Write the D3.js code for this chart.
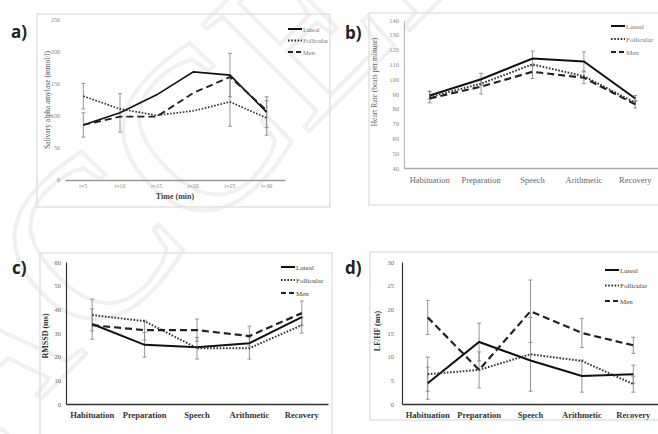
<!DOCTYPE html>
<html><head><meta charset="utf-8">
<script src="https://cdn.jsdelivr.net/npm/d3@7"></script>
<style>body{margin:0;background:#fff}svg{display:block}</style>
</head><body><svg id="chart" width="658" height="434"></svg>
<script>
// ---------- data ----------
const seriesNames = ["Luteal", "Follicular", "Men"];
const timeLabels = ["t=5", "t=10", "t=15", "t=20", "t=25", "t=30"];
const phaseLabels = ["Habituation", "Preparation", "Speech", "Arithmetic", "Recovery"];

const amylaseTicks = [0, 50, 100, 150, 200, 250];
const amylaseLuteal = [86, 105, 133, 169, 164, 106];
const amylaseFollicular = [131, 111, 101, 108, 122, 97];
const amylaseMen = [86, 99, 99, 136, 161, 109];
const amylaseErrLuteal = [19, 30, null, null, 34, 24];
const amylaseErrFollicular = [20, null, null, null, 38, 27];
const amylaseErrMen = [null, null, null, null, null, null];

const hrTicks = [40, 50, 60, 70, 80, 90, 100, 110, 120, 130, 140];
const hrLuteal = [89, 100, 114, 112, 87];
const hrFollicular = [88, 97, 110, 102, 84];
const hrMen = [87, 95, 105, 101, 83];
const hrErrLuteal = [2.5, 4, 5, 6.5, 2];
const hrErrFollicular = [4, null, null, null, null];
const hrErrMen = [null, 5, 4.5, 4, 2.5];

const rmssdTicks = [0, 10, 20, 30, 40, 50, 60];
const rmssdLuteal = [33.8, 25, 24, 25.7, 36.7];
const rmssdFollicular = [37.6, 35, 23.6, 23.6, 33.3];
const rmssdMen = [33.3, 31.2, 31.2, 28.7, 38.4];
const rmssdErrLuteal = [6.4, 5.2, null, null, null];
const rmssdErrFollicular = [6.7, null, 4.6, 4.6, 3.3];
const rmssdErrMen = [null, 4.2, 4.7, 4.2, 5.1];

const lfhfTicks = [0, 5, 10, 15, 20, 25, 30];
const lfhfLuteal = [4.4, 13.1, 9.2, 5.9, 6.3];
const lfhfFollicular = [6.3, 7.2, 10.5, 9.1, 4.2];
const lfhfMen = [18.3, 7.2, 19.6, 15, 12.4];
const lfhfErrLuteal = [3.4, 4, null, 3.4, 1.9];
const lfhfErrFollicular = [3.6, null, 7.8, null, 1.7];
const lfhfErrMen = [3.6, 3.8, 6.6, 3.1, 1.7];

// ---------- drawing ----------
const svg = d3.select("#chart");
const SERIF = "'Liberation Serif','Times New Roman',serif";

// faint watermark
svg.append("text")
  .attr("transform", "translate(-30,470) rotate(-45)")
  .attr("font-family", "'Liberation Serif',serif")
  .attr("font-size", 230)
  .attr("fill", "none")
  .attr("stroke", "#f0f0f0")
  .attr("stroke-width", 4)
  .text("ACCEPTED");

const styles = [
  {color: "#111", width: 2, dash: null},
  {color: "#333", width: 2, dash: "1.6,1.6"},
  {color: "#222", width: 2.2, dash: "7,4"}
];

function panel(cfg) {
  const g = svg.append("g");
  g.append("rect").attr("x", cfg.frame[0]).attr("y", cfg.frame[1])
    .attr("width", cfg.frame[2]).attr("height", cfg.frame[3])
    .attr("fill", "none").attr("stroke", "#e2e2e2").attr("stroke-width", 1.5);

  const x = d3.scaleBand().domain(cfg.cats).range([cfg.x0, cfg.x1]).padding(0);
  const y = d3.scaleLinear().domain(cfg.domain).range([cfg.yb, cfg.yt]);
  const cx = c => x(c) + x.bandwidth() / 2;

  const ya = g.append("g").attr("transform", `translate(${cfg.x0},0)`)
    .call(d3.axisLeft(y).tickValues(cfg.ticks).tickSize(0).tickPadding(cfg.tickPad).tickFormat(d3.format("d")));
  ya.select(".domain").attr("stroke", cfg.yAxisColor || "none").attr("stroke-width", 1.2);
  ya.selectAll("text").attr("font-family", SERIF).attr("font-size", cfg.tickSize).attr("fill", cfg.tickColor);

  const xa = g.append("g").attr("transform", `translate(0,${cfg.yb})`)
    .call(d3.axisBottom(x).tickSize(0).tickPadding(cfg.catPad));
  xa.select(".domain").attr("stroke", cfg.xAxisColor).attr("stroke-width", 1.3);
  xa.selectAll("text").attr("font-family", SERIF).attr("font-size", cfg.catSize)
    .attr("font-weight", cfg.catBold ? "bold" : "normal").attr("fill", cfg.catColor);

  cfg.series.forEach((s) => {
    s.err.forEach((e, i) => {
      if (e == null) return;
      const xc = cx(cfg.cats[i]);
      const y1 = y(s.values[i] - e), y2 = y(s.values[i] + e);
      g.append("line").attr("x1", xc).attr("x2", xc).attr("y1", y1).attr("y2", y2)
        .attr("stroke", "#8a8a8a").attr("stroke-width", 0.9);
      [y1, y2].forEach(yy => g.append("line").attr("x1", xc - 2).attr("x2", xc + 2)
        .attr("y1", yy).attr("y2", yy).attr("stroke", "#8a8a8a").attr("stroke-width", 0.9));
    });
  });

  const line = d3.line().x((d, i) => cx(cfg.cats[i])).y(d => y(d));
  cfg.series.forEach((s, si) => {
    const st = styles[si];
    g.append("path").datum(s.values).attr("d", line)
      .attr("fill", "none").attr("stroke", st.color)
      .attr("stroke-width", st.width * (cfg.lineScale || 1))
      .attr("stroke-dasharray", st.dash);
  });

  cfg.series.forEach((s, si) => {
    const st = styles[si];
    const ly = cfg.legend[1] + si * cfg.legend[2];
    g.append("line").attr("x1", cfg.legend[0]).attr("x2", cfg.legend[0] + 14)
      .attr("y1", ly).attr("y2", ly).attr("stroke", st.color).attr("stroke-width", st.width)
      .attr("stroke-dasharray", st.dash ? (si === 2 ? "5,3" : st.dash) : null);
    g.append("text").attr("x", cfg.legend[0] + 15).attr("y", ly + 2.5)
      .attr("font-family", SERIF).attr("font-size", cfg.legendSize).attr("fill", cfg.legendColor)
      .text(s.name);
  });

  g.append("text").attr("transform", `translate(${cfg.yTitle[0]},${cfg.yTitle[1]}) rotate(-90)`)
    .attr("text-anchor", "middle").attr("font-family", SERIF).attr("font-size", cfg.yTitleSize)
    .attr("font-weight", cfg.yTitleBold ? "bold" : "normal").attr("fill", cfg.yTitleColor)
    .text(cfg.yTitleText);

  if (cfg.xTitle) {
    g.append("text").attr("x", cfg.xTitle[0]).attr("y", cfg.xTitle[1]).attr("text-anchor", "middle")
      .attr("font-family", SERIF).attr("font-size", 8).attr("font-weight", "bold").attr("fill", "#444")
      .text(cfg.xTitle[2]);
  }

  g.append("text").attr("x", cfg.letter[0]).attr("y", cfg.letter[1])
    .attr("font-family", "'Open Sans','Liberation Sans',sans-serif").attr("font-size", 17)
    .attr("font-weight", "bold").attr("fill", "#222").text(cfg.letter[2]);
}

panel({
  cats: timeLabels, domain: [0, 250], ticks: amylaseTicks,
  x0: 65, x1: 285, yb: 180, yt: 20,
  frame: [37, 14, 293, 193],
  tickPad: 5, tickSize: 6, tickColor: "#888",
  xAxisColor: "#999", catPad: 4, catSize: 6, catBold: false, catColor: "#888",
  lineScale: 0.85,
  series: [
    {name: seriesNames[0], values: amylaseLuteal, err: amylaseErrLuteal},
    {name: seriesNames[1], values: amylaseFollicular, err: amylaseErrFollicular},
    {name: seriesNames[2], values: amylaseMen, err: amylaseErrMen}
  ],
  legend: [288, 29, 11.5], legendSize: 6.5, legendColor: "#777",
  yTitle: [50, 100], yTitleSize: 7.5, yTitleBold: false, yTitleColor: "#555",
  yTitleText: "Salivary alpha amylase (mmol/l)",
  xTitle: [175, 199, "Time (min)"],
  letter: [11, 38, "a)"]
});

panel({
  cats: phaseLabels, domain: [40, 140], ticks: hrTicks,
  x0: 404, x1: 661, yb: 168, yt: 20,
  frame: [369, 13, 295, 192],
  tickPad: 5, tickSize: 6.5, tickColor: "#888", yAxisColor: "#bbb",
  xAxisColor: "#aaa", catPad: 9, catSize: 8.5, catBold: false, catColor: "#666",
  series: [
    {name: seriesNames[0], values: hrLuteal, err: hrErrLuteal},
    {name: seriesNames[1], values: hrFollicular, err: hrErrFollicular},
    {name: seriesNames[2], values: hrMen, err: hrErrMen}
  ],
  legend: [611, 26, 13], legendSize: 7, legendColor: "#777",
  yTitle: [377, 82], yTitleSize: 7.5, yTitleBold: false, yTitleColor: "#666",
  yTitleText: "Heart Rate (beats per minute)",
  letter: [345, 39, "b)"]
});

panel({
  cats: phaseLabels, domain: [0, 60], ticks: rmssdTicks,
  x0: 66, x1: 328, yb: 404, yt: 262,
  frame: [40, 253, 292, 185],
  tickPad: 5, tickSize: 6.5, tickColor: "#666", yAxisColor: "#333",
  xAxisColor: "#333", catPad: 8, catSize: 8.5, catBold: true, catColor: "#333",
  series: [
    {name: seriesNames[0], values: rmssdLuteal, err: rmssdErrLuteal},
    {name: seriesNames[1], values: rmssdFollicular, err: rmssdErrFollicular},
    {name: seriesNames[2], values: rmssdMen, err: rmssdErrMen}
  ],
  legend: [281, 267, 13], legendSize: 7, legendColor: "#444",
  yTitle: [48, 336], yTitleSize: 8, yTitleBold: true, yTitleColor: "#333",
  yTitleText: "RMSSD (ms)",
  letter: [12, 274, "c)"]
});

panel({
  cats: phaseLabels, domain: [0, 30], ticks: lfhfTicks,
  x0: 402, x1: 659, yb: 404, yt: 262,
  frame: [370, 252, 292, 168],
  tickPad: 8, tickSize: 6.5, tickColor: "#666", yAxisColor: "#333",
  xAxisColor: "#333", catPad: 8, catSize: 8.5, catBold: true, catColor: "#333",
  series: [
    {name: seriesNames[0], values: lfhfLuteal, err: lfhfErrLuteal},
    {name: seriesNames[1], values: lfhfFollicular, err: lfhfErrFollicular},
    {name: seriesNames[2], values: lfhfMen, err: lfhfErrMen}
  ],
  legend: [605, 270, 15.5], legendSize: 7, legendColor: "#444",
  yTitle: [380, 331], yTitleSize: 8, yTitleBold: true, yTitleColor: "#333",
  yTitleText: "LF/HF (ms)",
  letter: [345, 274, "d)"]
});
</script>
</body></html>
